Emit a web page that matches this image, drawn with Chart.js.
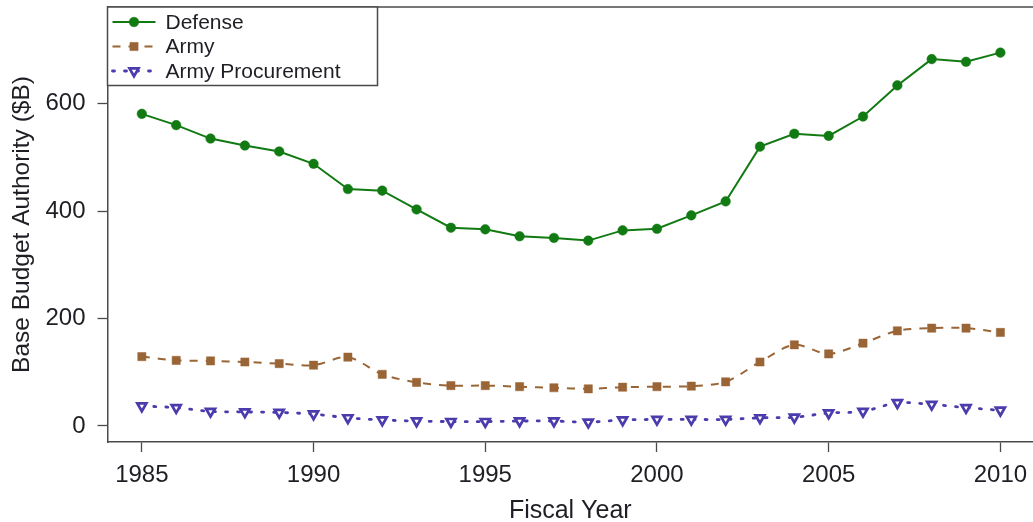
<!DOCTYPE html>
<html>
<head>
<meta charset="utf-8">
<script src="https://cdn.jsdelivr.net/npm/chart.js@4/dist/chart.umd.min.js"></script>
<style>
  html, body { margin: 0; padding: 0; background: #fff; }
  canvas { display: block; }
</style>
</head>
<body>
<canvas id="budget" width="1033" height="522"></canvas>
<script>
// Fiscal years and base budget authority ($B)
const years = [1985, 1986, 1987, 1988, 1989, 1990, 1991, 1992, 1993, 1994, 1995, 1996, 1997,
               1998, 1999, 2000, 2001, 2002, 2003, 2004, 2005, 2006, 2007, 2008, 2009, 2010];
const defense = [581, 560, 535, 522, 511, 488, 441, 438, 403, 369, 366, 353, 350,
                 345, 364, 367, 392, 418, 520, 544, 540, 576, 634, 683, 678, 695];
const army = [129, 122, 121, 119, 116, 113, 128, 96, 81, 75, 75, 73, 71,
              69, 72, 73, 74, 82, 119, 151, 134, 154, 177, 182, 182, 174];
const armyProcurement = [37, 34, 27, 26, 25, 22, 15, 11, 9, 8, 8, 9, 9,
                         7, 11, 12, 12, 12, 15, 16, 24, 27, 43, 40, 34, 29];

const seriesNames = ['Defense', 'Army', 'Army Procurement'];
const xTickValues = [1985, 1990, 1995, 2000, 2005, 2010];
const yTickValues = [0, 200, 400, 600];

const GREEN = '#127a12';
const BROWN = '#9a6536';
const PURPLE = '#4b3cad';
const AXIS = '#4a4a4a';
const TEXT = '#1e1e24';
const FONT = "'Liberation Sans', Arial, Helvetica, sans-serif";

const toPoints = vals => years.map((yr, i) => ({ x: yr, y: vals[i] }));

// Keep the plot area flush with the layout padding
function noScalePadding(s) {
  s.paddingTop = 0;
  s.paddingBottom = 0;
  s.paddingLeft = 0;
  s.paddingRight = 0;
}

// Top edge of the plot frame (left and bottom come from the axis borders)
const frameTop = {
  id: 'frameTop',
  afterDatasetsDraw(chart) {
    const { ctx, chartArea: a } = chart;
    ctx.save();
    ctx.strokeStyle = AXIS;
    ctx.lineWidth = 1.5;
    ctx.beginPath();
    ctx.moveTo(a.left, a.top);
    ctx.lineTo(a.right, a.top);
    ctx.stroke();
    ctx.restore();
  }
};

// Boxed legend in the upper-left corner of the plot
function markerAt(ctx, ds, x, y) {
  const opts = {
    pointStyle: ds.pointStyle,
    radius: ds.pointRadius,
    rotation: ds.pointRotation || 0,
    borderWidth: ds.pointBorderWidth
  };
  ctx.save();
  ctx.fillStyle = ds.pointBackgroundColor;
  ctx.strokeStyle = ds.pointBorderColor;
  ctx.lineWidth = ds.pointBorderWidth;
  ctx.setLineDash([]);
  Chart.helpers.drawPoint(ctx, opts, x, y);
  ctx.restore();
}

const boxLegend = {
  id: 'boxLegend',
  afterDraw(chart) {
    const { ctx, chartArea: a } = chart;
    const left = a.left, top = a.top;
    const w = 270, h = 78.5;
    ctx.save();
    ctx.fillStyle = '#fff';
    ctx.fillRect(left, top, w, h);
    ctx.strokeStyle = AXIS;
    ctx.lineWidth = 1.5;
    ctx.strokeRect(left, top, w, h);
    const rows = [15, 39.5, 64];
    chart.data.datasets.forEach((ds, i) => {
      const y = top + rows[i];
      ctx.save();
      ctx.strokeStyle = ds.borderColor;
      ctx.lineWidth = ds.borderWidth;
      ctx.lineCap = ds.borderCapStyle || 'butt';
      ctx.setLineDash(ds.borderDash || []);
      ctx.beginPath();
      ctx.moveTo(left + 5, y);
      ctx.lineTo(left + 48, y);
      ctx.stroke();
      ctx.restore();
      markerAt(ctx, ds, left + 26.5, y);
      ctx.fillStyle = TEXT;
      ctx.font = '21px ' + FONT;
      ctx.textBaseline = 'middle';
      ctx.textAlign = 'left';
      ctx.fillText(ds.label, left + 58, y + 1);
    });
    ctx.restore();
  }
};

const tickGrid = {
  display: true,
  drawOnChartArea: false,
  drawTicks: true,
  tickLength: 10,
  tickWidth: 1.3,
  tickColor: AXIS
};

new Chart(document.getElementById('budget'), {
  type: 'line',
  data: {
    datasets: [
      {
        label: seriesNames[0],
        data: toPoints(defense),
        borderColor: GREEN,
        borderWidth: 2,
        tension: 0,
        pointStyle: 'circle',
        pointRadius: 4.8,
        pointBackgroundColor: GREEN,
        pointBorderColor: GREEN,
        pointBorderWidth: 0.5
      },
      {
        label: seriesNames[1],
        data: toPoints(army),
        borderColor: BROWN,
        borderWidth: 2,
        borderDash: [8, 8],
        tension: 0.3,
        pointStyle: 'rect',
        pointRadius: 5.8,
        pointBackgroundColor: BROWN,
        pointBorderColor: BROWN,
        pointBorderWidth: 0.5
      },
      {
        label: seriesNames[2],
        data: toPoints(armyProcurement),
        borderColor: PURPLE,
        borderWidth: 2.8,
        borderDash: [2, 10],
        borderCapStyle: 'round',
        tension: 0.3,
        pointStyle: 'triangle',
        pointRotation: 180,
        pointRadius: 5.2,
        pointBackgroundColor: '#ffffff',
        pointBorderColor: PURPLE,
        pointBorderWidth: 2.7
      }
    ]
  },
  options: {
    responsive: false,
    animation: false,
    events: [],
    layout: { autoPadding: false, padding: { top: 7, right: 0, bottom: 0, left: 0 } },
    plugins: {
      legend: { display: false },
      tooltip: { enabled: false }
    },
    scales: {
      x: {
        type: 'linear',
        min: 1984,
        max: 2010.95,
        afterBuildTicks: s => { s.ticks = xTickValues.map(v => ({ value: v })); },
        afterFit: s => { s.height = 80; noScalePadding(s); },
        border: { display: true, color: AXIS, width: 1.5 },
        grid: tickGrid,
        ticks: {
          autoSkip: false,
          maxRotation: 0,
          padding: 9,
          color: TEXT,
          font: { family: FONT, size: 24 },
          callback: v => String(v)
        },
        title: {
          display: true,
          text: 'Fiscal Year',
          color: TEXT,
          font: { family: FONT, size: 25 },
          padding: { top: 0, bottom: -4 }
        }
      },
      y: {
        type: 'linear',
        min: -30,
        max: 780,
        afterBuildTicks: s => { s.ticks = yTickValues.map(v => ({ value: v })); },
        afterFit: s => { s.width = 107.5; noScalePadding(s); },
        border: { display: true, color: AXIS, width: 1.5 },
        grid: tickGrid,
        ticks: {
          padding: 12,
          color: TEXT,
          font: { family: FONT, size: 24 },
          callback: v => String(v)
        },
        title: {
          display: true,
          text: 'Base Budget Authority ($B)',
          color: TEXT,
          font: { family: FONT, size: 24.5 },
          padding: { top: 8, bottom: 0 }
        }
      }
    }
  },
  plugins: [frameTop, boxLegend]
});
</script>
</body>
</html>
